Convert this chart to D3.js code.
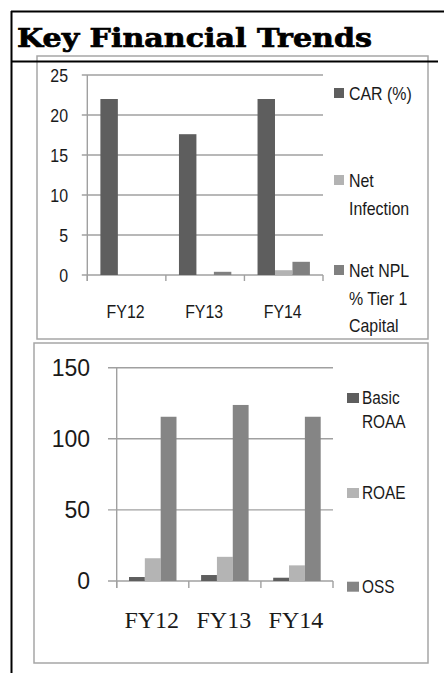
<!DOCTYPE html>
<html>
  <head>
    <meta charset="utf-8">
    <title>Key Financial Trends</title>
    <script src="https://cdnjs.cloudflare.com/ajax/libs/d3/7.8.5/d3.min.js"></script>
    <style>
      html, body { margin: 0; padding: 0; background: #fff; }
      svg { display: block; }
      .sans { font-family: "Liberation Sans", Arial, sans-serif; fill: #1a1a1a; }
    </style>
  </head>
  <body>
    <div id="chart"></div>
    <script>
      // data
      var years = ["FY12", "FY13", "FY14"];

      // top chart
      var carSeries = [22, 17.6, 22];
      var netInfection = [0, 0, 0.6];
      var netNpl = [0, 0.4, 1.65];
      var topNames = ["CAR (%)", "Net Infection", "Net NPL % Tier 1 Capital"];
      var topTicks = [0, 5, 10, 15, 20, 25];

      // bottom chart
      var basicRoaa = [2.8, 4.2, 2.3];
      var roae = [16, 17, 11];
      var oss = [115.5, 123.8, 115.5];
      var bottomNames = ["Basic ROAA", "ROAE", "OSS"];
      var bottomTicks = [0, 50, 100, 150];

      var W = 444, H = 673;
      var svg = d3.select("#chart").append("svg")
        .attr("width", W).attr("height", H);

      // squeeze text horizontally (source font is a narrow one)
      function narrow(sel, k) {
        sel.each(function() {
          var len = this.getComputedTextLength();
          d3.select(this).attr("textLength", len * k).attr("lengthAdjust", "spacingAndGlyphs");
        });
      }

      // ---------- page frame + title ----------
      // chart frames go first, the black rules sit on top
      svg.append("rect").attr("x", 37).attr("y", 56).attr("width", 391).attr("height", 283)
        .attr("fill", "none").attr("stroke", "#a6a6a6").attr("stroke-width", 1.5);
      svg.append("rect").attr("x", 34).attr("y", 343).attr("width", 394).attr("height", 320)
        .attr("fill", "none").attr("stroke", "#a6a6a6").attr("stroke-width", 1.5);

      svg.append("line").attr("x1", 11).attr("x2", 444).attr("y1", 11.5).attr("y2", 11.5)
        .attr("stroke", "#000").attr("stroke-width", 2);
      svg.append("line").attr("x1", 11.5).attr("x2", 11.5).attr("y1", 11).attr("y2", 673)
        .attr("stroke", "#000").attr("stroke-width", 2);
      svg.append("line").attr("x1", 11).attr("x2", 438).attr("y1", 61.5).attr("y2", 61.5)
        .attr("stroke", "#000").attr("stroke-width", 2);

      svg.append("text").attr("x", 17).attr("y", 47)
        .attr("font-family", "'DejaVu Serif', 'Liberation Serif', serif")
        .attr("font-weight", "bold").attr("font-size", 26)
        .attr("stroke", "#000").attr("stroke-width", 0.7)
        .attr("textLength", 355).attr("lengthAdjust", "spacingAndGlyphs")
        .text("Key Financial Trends");

      // ---------- grouped bar chart helper ----------
      function drawChart(o) {
        var g = svg.append("g");
        var x = d3.scaleBand().domain(years).range([o.left, o.right]);
        var xs = d3.scaleBand().domain(d3.range(o.series.length))
          .range([o.outer, x.bandwidth() - o.outer]);
        var y = d3.scaleLinear().domain(o.domain).range([o.bottom, o.top]);

        // gridlines with the short outer tick
        g.selectAll("line.grid").data(o.ticks).enter().append("line")
          .attr("x1", o.left - o.tickLen).attr("x2", o.right)
          .attr("y1", function(d) { return y(d); }).attr("y2", function(d) { return y(d); })
          .attr("stroke", "#a0a0a0").attr("stroke-width", 1.4);
        // y axis line
        g.append("line").attr("x1", o.left).attr("x2", o.left)
          .attr("y1", y(o.domain[1])).attr("y2", y(0) + o.xTick)
          .attr("stroke", "#a0a0a0").attr("stroke-width", 1.4);
        // x category ticks
        var edges = years.map(function(d) { return x(d); }).concat([o.right]);
        g.selectAll("line.xt").data(edges).enter().append("line")
          .attr("x1", function(d) { return d; }).attr("x2", function(d) { return d; })
          .attr("y1", y(0)).attr("y2", y(0) + o.xTick)
          .attr("stroke", "#a0a0a0").attr("stroke-width", 1.4);

        // bars
        o.series.forEach(function(vals, si) {
          g.selectAll(null).data(vals).enter().append("rect")
            .attr("x", function(d, i) { return x(years[i]) + xs(si); })
            .attr("width", xs.bandwidth())
            .attr("y", function(d) { return y(d); })
            .attr("height", function(d) { return y(0) - y(d); })
            .attr("fill", o.colors[si]);
        });

        // y tick labels
        var yl = g.selectAll("text.yl").data(o.ticks).enter().append("text")
          .attr("class", "sans")
          .attr("x", o.yLabelX).attr("y", function(d) { return y(d); })
          .attr("dy", "0.36em").attr("text-anchor", "end")
          .attr("font-size", o.yFont).text(function(d) { return d; });
        if (o.squeeze) narrow(yl, o.squeeze);

        // x labels
        var xl = g.selectAll("text.xl").data(years).enter().append("text")
          .attr("x", function(d) { return x(d) + x.bandwidth() / 2 - 1; })
          .attr("y", o.xLabelY).attr("text-anchor", "middle")
          .attr("font-family", o.xFamily).attr("font-size", o.xFont)
          .attr("fill", "#1a1a1a").text(function(d) { return d; });
        if (o.squeeze) narrow(xl, o.squeeze);

        // legend
        o.legend.forEach(function(item, li) {
          g.append("rect").attr("x", o.legX).attr("y", item.lines[0] - o.sq[1] / 2)
            .attr("width", o.sq[0]).attr("height", o.sq[1]).attr("fill", o.colors[li]);
          var words = item.text;
          words.forEach(function(w, wi) {
            var t = g.append("text").attr("class", "sans")
              .attr("x", o.legTextX).attr("y", item.lines[wi]).attr("dy", "0.36em")
              .attr("font-size", o.legFont).text(w);
            narrow(t, o.legSqueeze);
          });
        });
      }

      drawChart({
        series: [carSeries, netInfection, netNpl],
        colors: ["#5e5e5e", "#b3b3b3", "#808080"],
        domain: [0, 25], ticks: topTicks,
        left: 87.3, right: 323, top: 75, bottom: 275,
        outer: 13.1, tickLen: 5.5, xTick: 6,
        yLabelX: 68, yFont: 18.5, squeeze: 0.86,
        xLabelY: 317.5, xFont: 18.5, xFamily: "'Liberation Sans', Arial, sans-serif",
        legX: 334, legTextX: 349, sq: [10, 10], legFont: 18.5, legSqueeze: 0.86,
        legend: [
          { text: ["CAR (%)"], lines: [93] },
          { text: ["Net", "Infection"], lines: [180, 208] },
          { text: ["Net NPL", "% Tier 1", "Capital"], lines: [270, 298, 325] }
        ]
      });

      drawChart({
        series: [basicRoaa, roae, oss],
        colors: ["#5e5e5e", "#b4b4b4", "#858585"],
        domain: [0, 150], ticks: bottomTicks,
        left: 116.7, right: 333, top: 367.7, bottom: 581,
        outer: 12.3, tickLen: 8.7, xTick: 7,
        yLabelX: 90, yFont: 23, squeeze: 0,
        xLabelY: 628, xFont: 24, xFamily: "'Liberation Serif', 'Times New Roman', serif",
        legX: 347, legTextX: 362, sq: [12, 10], legFont: 17.5, legSqueeze: 0.88,
        legend: [
          { text: ["Basic", "ROAA"], lines: [398, 421.7] },
          { text: ["ROAE"], lines: [493] },
          { text: ["OSS"], lines: [586.7] }
        ]
      });
    </script>
  </body>
</html>
